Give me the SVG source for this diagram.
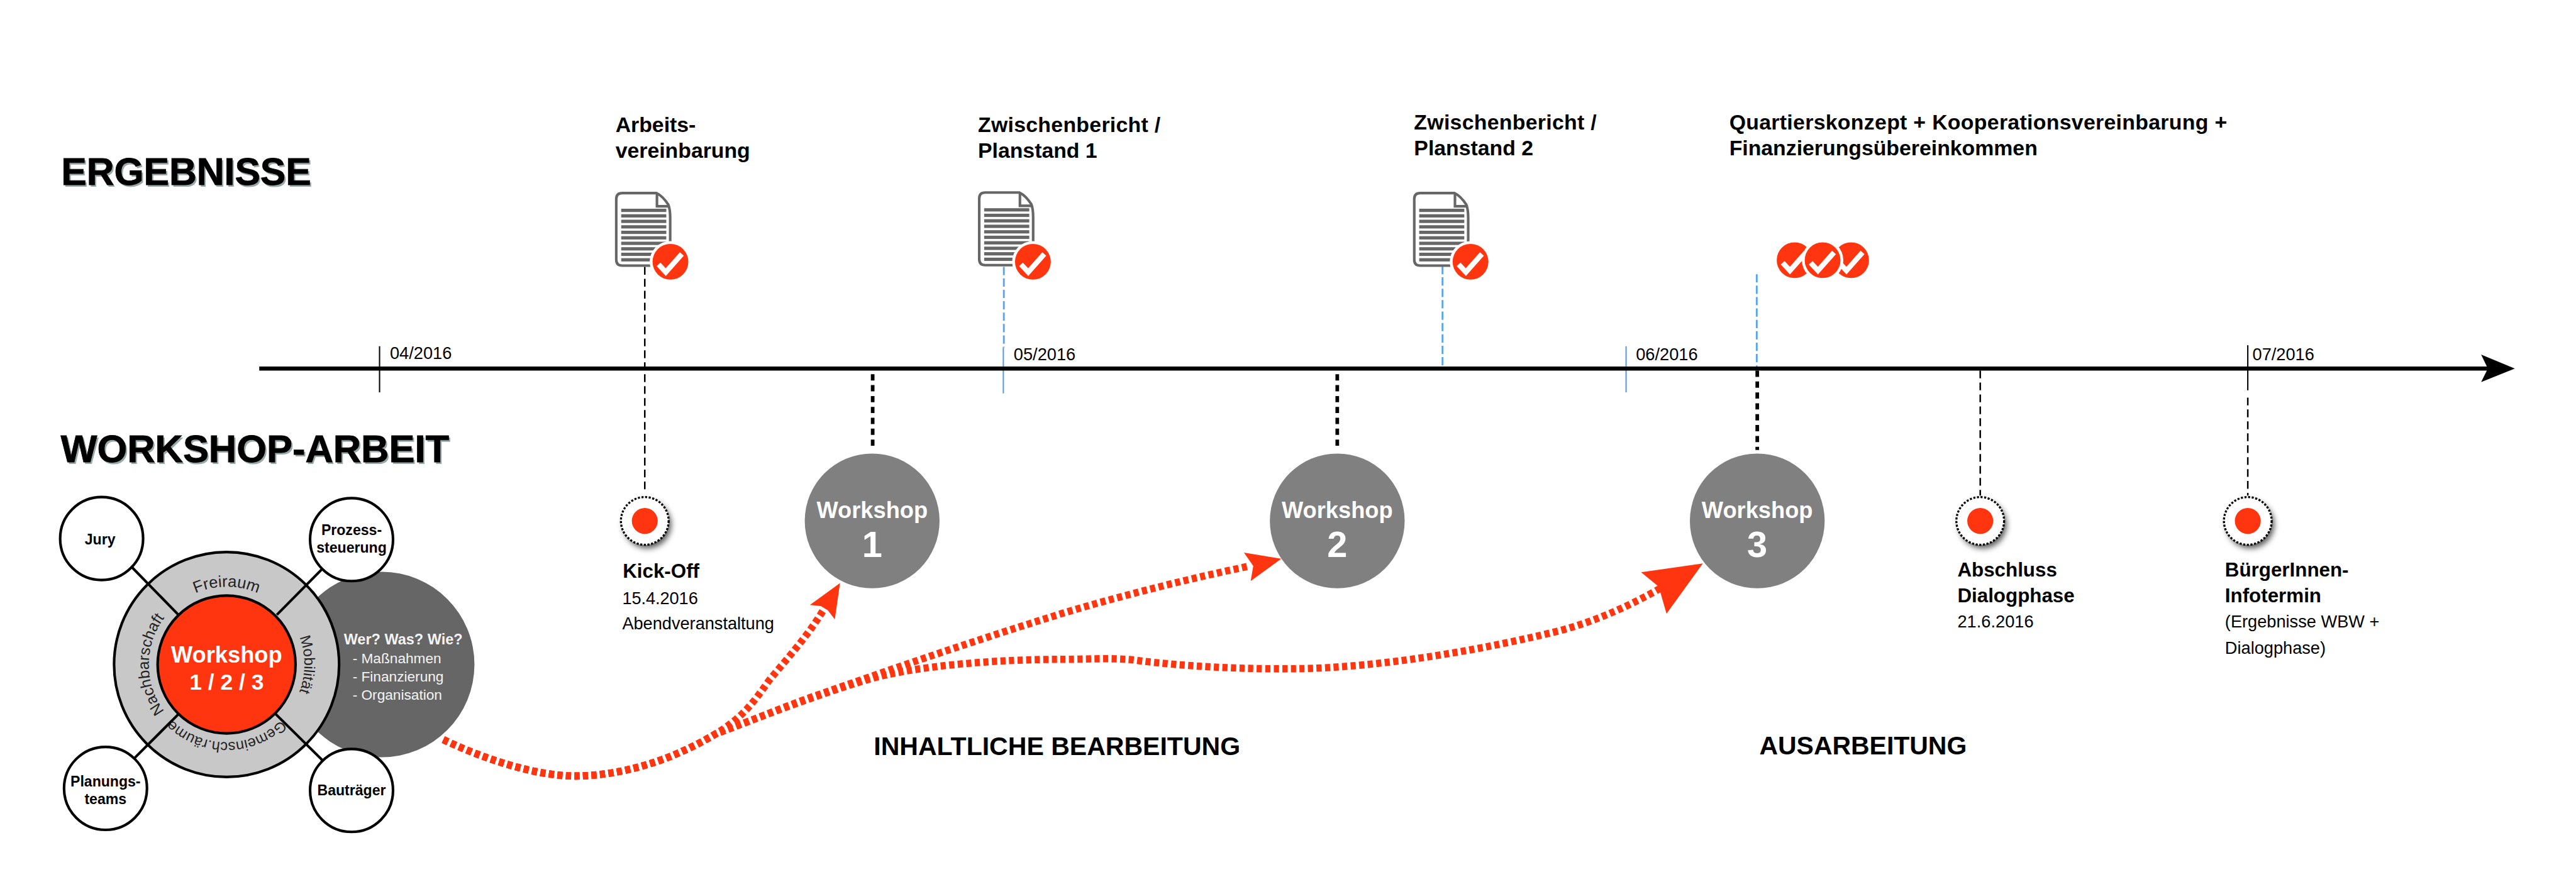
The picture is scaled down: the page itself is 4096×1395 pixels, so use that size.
<svg xmlns="http://www.w3.org/2000/svg" xmlns:xlink="http://www.w3.org/1999/xlink" width="4096" height="1395" viewBox="0 0 4096 1395">
<style>
text{font-family:"Liberation Sans",Arial,sans-serif;fill:#000}
.b{font-weight:700}
.h1{font-weight:700;font-size:75px;stroke:#000;stroke-width:1px}
.sh{font-weight:700;font-size:75px;fill:#9aa8a8}
.lab{font-weight:700;font-size:41px}
.sec{font-weight:700;font-size:49.5px}
.date{font-size:33px}
.nm{font-weight:700;font-size:38px}
.sm{font-size:33px}
.small{font-weight:700;font-size:28px;text-anchor:middle}
.ring{font-size:29px;fill:#222;text-anchor:middle}
.wh{fill:#fff;font-weight:700;text-anchor:middle}
.who{fill:#f4f4f4;font-size:27.5px}
.axis{stroke:#000;stroke-width:8;fill:none}
.tk{stroke:#000;stroke-width:2.5;fill:none}
.tb{stroke:#5b9bd5;stroke-width:2.5;fill:none}
.bd{stroke:#5aa5ee;stroke-width:3.5;stroke-dasharray:16 6;fill:none}
.kd{stroke:#000;stroke-width:3;stroke-dasharray:15 8;fill:none}
.td{stroke:#000;stroke-width:7;stroke-dasharray:12 9;fill:none}
.rd{stroke:#ff3510;stroke-width:14;stroke-dasharray:10 6.5;fill:none}
.red{fill:#ff3510}
.ws{fill:#808080}
.ln{stroke:#000;stroke-width:5;fill:none}
.sc{fill:#fff;stroke:#000;stroke-width:5}
</style>
<defs>
<filter id="ds" x="-40%" y="-40%" width="190%" height="190%"><feDropShadow dx="5" dy="7" stdDeviation="6" flood-color="#000" flood-opacity="0.65"/></filter>
<g id="doc">
<path d="M14 2.5H80Q92 8 103 25Q106.5 34 106.5 50V142.500H14Q2.500 142.500 2.500 131V14Q2.500 2.500 14 2.500Z" fill="none" stroke="#666" stroke-width="5"/>
<path d="M81 2.500V28H105" fill="none" stroke="#666" stroke-width="5"/>
<g fill="#666">
<rect x="12" y="32.700" width="87" height="6.300"/><rect x="12" y="43.300" width="87" height="6.300"/><rect x="12" y="53.900" width="87" height="6.300"/><rect x="12" y="64.500" width="87" height="6.300"/><rect x="12" y="75.100" width="87" height="6.300"/><rect x="12" y="85.700" width="87" height="6.300"/><rect x="12" y="96.300" width="87" height="6.300"/><rect x="12" y="106.900" width="87" height="6.300"/><rect x="12" y="117.500" width="87" height="6.300"/><rect x="12" y="128.100" width="87" height="6.300"/>
</g>
</g>
<g id="badge">
<circle r="40" fill="#fff"/>
<circle r="34.500" class="red"/>
<path d="M-23 5L-9 20L22-15" fill="none" stroke="#fff" stroke-width="10"/>
</g>
<g id="dot">
<circle r="46" fill="#fff" filter="url(#ds)"/>
<circle r="46" fill="#fff" stroke="#000" stroke-width="4" stroke-dasharray="4 3"/>
<circle r="25" class="red"/>
</g>
<path id="pTop" d="M287 1282A150 150 0 0 1 587 1282"/>
<path id="pRight" d="M437 1132A150 150 0 0 1 437 1432"/>
<path id="pBottom" d="M587 1282A150 150 0 0 1 287 1282"/>
<path id="pLeft" d="M437 1432A150 150 0 0 1 437 1132"/>
</defs>
<rect width="4096" height="1395" fill="#fff"/>
<g transform="scale(0.82448)">

<g id="headings">
<text class="sh" x="121" y="360" textLength="482" lengthAdjust="spacingAndGlyphs">ERGEBNISSE</text>
<text class="h1" x="118" y="357" textLength="482" lengthAdjust="spacingAndGlyphs">ERGEBNISSE</text>
<text class="sh" x="120" y="895" textLength="749" lengthAdjust="spacingAndGlyphs">WORKSHOP-ARBEIT</text>
<text class="h1" x="117" y="892" textLength="749" lengthAdjust="spacingAndGlyphs">WORKSHOP-ARBEIT</text>
<text class="sec" x="1685" y="1457" textLength="707" lengthAdjust="spacingAndGlyphs">INHALTLICHE BEARBEITUNG</text>
<text class="sec" x="3393" y="1456" textLength="400" lengthAdjust="spacingAndGlyphs">AUSARBEITUNG</text>
</g>

<g id="connectors">
<path class="kd" d="M1243.500 515V952"/>
<path class="bd" d="M1936 515V670"/>
<path class="bd" d="M2782 513V707"/>
<path class="bd" d="M3388 529V707"/>
<path class="td" d="M1683 722V865"/>
<path class="td" d="M2579 722V865"/>
<path class="td" d="M3389 715V868"/>
<path class="kd" d="M3819 715V956"/>
<path class="kd" d="M4335 767V956"/>
<path class="tk" d="M732 668V757"/>
<path class="tb" d="M1935 670V759"/>
<path class="tb" d="M3136 668V757"/>
<path class="tk" d="M4335 666V753"/>
<path class="axis" d="M500 711H4800"/>
<polygon points="4850,711 4785,684 4798,711 4785,737" fill="#000"/>
<path class="rd" d="M855 1427C935 1465 1040 1500 1120 1497C1200 1494 1290 1470 1380 1416C1430 1385 1450 1360 1483 1313C1520 1268 1560 1225 1592 1170"/>
<path class="rd" d="M855 1427C935 1465 1040 1500 1120 1497C1200 1494 1290 1470 1380 1416C1450 1390 1520 1360 1585 1338C1700 1298 1850 1245 2050 1183C2170 1147 2300 1115 2410 1092"/>
<path class="rd" d="M855 1427C935 1465 1040 1500 1120 1497C1200 1494 1290 1470 1380 1416C1450 1390 1560 1345 1674 1311C1770 1283 1930 1272 2050 1272C2110 1272 2150 1268 2200 1275C2280 1285 2400 1292 2509 1290C2620 1288 2800 1268 3007 1217C3080 1198 3150 1165 3204 1134"/>
<polygon class="red" points="1620,1125 1562,1167 1591,1170 1610,1195"/>
<polygon class="red" points="2471,1078 2399,1066 2417,1092 2412,1121"/>
<polygon class="red" points="3284,1087 3165,1104 3199,1132 3214,1184"/>
</g>

<g id="month-labels">
<text class="date" x="752" y="693">04/2016</text>
<text class="date" x="1955" y="695">05/2016</text>
<text class="date" x="3155" y="695">06/2016</text>
<text class="date" x="4344" y="695">07/2016</text>
</g>

<g id="result-1">
<text class="lab" x="1187" y="255">Arbeits-</text>
<text class="lab" x="1187" y="305">vereinbarung</text>
<use href="#doc" x="1186" y="370"/><use href="#badge" x="1293" y="505"/>
</g>
<g id="result-2">
<text class="lab" x="1886" y="255" textLength="352">Zwischenbericht /</text>
<text class="lab" x="1886" y="305">Planstand 1</text>
<use href="#doc" x="1886" y="369"/><use href="#badge" x="1992" y="505"/>
</g>
<g id="result-3">
<text class="lab" x="2727" y="250" textLength="352">Zwischenbericht /</text>
<text class="lab" x="2727" y="299">Planstand 2</text>
<use href="#doc" x="2725" y="370"/><use href="#badge" x="2836" y="505"/>
</g>
<g id="result-4">
<text class="lab" x="3335" y="250" textLength="960">Quartierskonzept + Kooperationsvereinbarung +</text>
<text class="lab" x="3335" y="299">Finanzierungsübereinkommen</text>
<use href="#badge" x="3461" y="502"/><use href="#badge" x="3570" y="502"/><use href="#badge" x="3515" y="502"/>
</g>

<g id="kick-off">
<use href="#dot" x="1243.500" y="1005"/>
<text class="nm" x="1201" y="1115">Kick-Off</text>
<text class="sm" x="1200" y="1165" textLength="146">15.4.2016</text>
<text class="sm" x="1200" y="1214" textLength="293">Abendveranstaltung</text>
</g>
<g id="abschluss">
<use href="#dot" x="3819" y="1005"/>
<text class="nm" x="3775" y="1112">Abschluss</text>
<text class="nm" x="3775" y="1162">Dialogphase</text>
<text class="sm" x="3775" y="1211" textLength="147">21.6.2016</text>
</g>
<g id="infotermin">
<use href="#dot" x="4335" y="1005"/>
<text class="nm" x="4291" y="1112">BürgerInnen-</text>
<text class="nm" x="4291" y="1162">Infotermin</text>
<text class="sm" x="4291" y="1211">(Ergebnisse WBW +</text>
<text class="sm" x="4291" y="1261">Dialogphase)</text>
</g>

<g id="workshop-1">
<circle class="ws" cx="1682" cy="1005" r="130"/>
<text class="wh" x="1682" y="1000" font-size="44">Workshop</text>
<text class="wh" x="1682" y="1075" font-size="70">1</text>
</g>
<g id="workshop-2">
<circle class="ws" cx="2579" cy="1005" r="130"/>
<text class="wh" x="2579" y="1000" font-size="44">Workshop</text>
<text class="wh" x="2579" y="1075" font-size="70">2</text>
</g>
<g id="workshop-3">
<circle class="ws" cx="3389" cy="1005" r="130"/>
<text class="wh" x="3389" y="1000" font-size="44">Workshop</text>
<text class="wh" x="3389" y="1075" font-size="70">3</text>
</g>

<g id="questions">
<circle cx="736" cy="1282" r="179" fill="#666"/>
<text x="663" y="1243.500" font-size="28.500" font-weight="700" style="fill:#f4f4f4">Wer? Was? Wie?</text>
<text class="who" x="680" y="1280">- Maßnahmen</text>
<text class="who" x="680" y="1315">- Finanzierung</text>
<text class="who" x="680" y="1350">- Organisation</text>
</g>
<g id="ring">
<circle cx="437" cy="1282" r="217" fill="#c8c8c8" stroke="#000" stroke-width="5"/>
<text class="ring" style="font-size:31px"><textPath href="#pTop" startOffset="50%">Freiraum</textPath></text>
<text class="ring"><textPath href="#pRight" startOffset="50%">Mobilität</textPath></text>
<text class="ring" style="font-size:28.500px"><textPath href="#pBottom" startOffset="50%">Gemeinsch.räume</textPath></text>
<text class="ring" style="font-size:30px"><textPath href="#pLeft" startOffset="50%">Nachbarschaft</textPath></text>
</g>
<g id="spokes">
<path class="ln" d="M255 1095L344 1186"/>
<path class="ln" d="M620 1099L534 1186"/>
<path class="ln" d="M260 1462L344 1378"/>
<path class="ln" d="M623 1468L532 1378"/>
</g>
<g id="workshop-center">
<circle class="red" cx="437" cy="1282" r="133" stroke="#000" stroke-width="5"/>
<text class="wh" x="437" y="1278" font-size="44">Workshop</text>
<text class="wh" x="437" y="1330" font-size="43">1 / 2 / 3</text>
</g>
<g id="jury">
<circle class="sc" cx="196" cy="1039" r="80"/>
<text class="small" x="193" y="1050">Jury</text>
</g>
<g id="prozesssteuerung">
<circle class="sc" cx="678" cy="1041" r="80"/>
<text class="small" x="678" y="1032">Prozess-</text>
<text class="small" x="678" y="1066">steuerung</text>
</g>
<g id="planungsteams">
<circle class="sc" cx="203.500" cy="1521" r="80"/>
<text class="small" x="203.500" y="1517">Planungs-</text>
<text class="small" x="203.500" y="1551">teams</text>
</g>
<g id="bautraeger">
<circle class="sc" cx="678" cy="1525" r="80"/>
<text class="small" x="678" y="1534">Bauträger</text>
</g>
</g>
</svg>
